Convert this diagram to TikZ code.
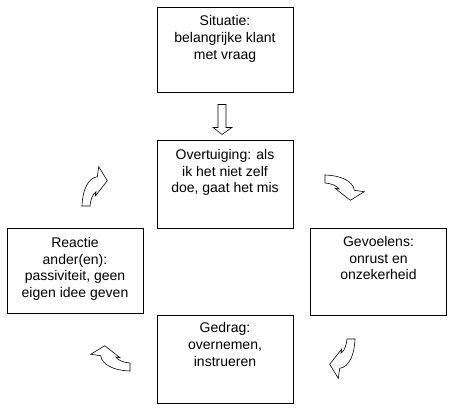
\documentclass[tikz,border=0pt]{standalone}
\usepackage{fontspec}
\setmainfont{Liberation Sans}
\usetikzlibrary{positioning,calc}

\tikzset{
  box/.style={draw, line width=0.9pt, minimum width=136pt, inner sep=0pt},
  txt/.style={align=center, inner sep=0pt, font=\fontsize{14}{16.7}\selectfont},
  arrowline/.style={draw, fill=white, line width=0.6pt, line join=miter},
  curvarrow/.pic={
    \path[arrowline, x=1pt, y=1pt] (0,0) .. controls (0.5,16) and (6,28) .. (15.3,29.3)
      -- (16.7,39.3) -- (25.3,25.3) -- (13.3,10) -- (14,14.3)
      .. controls (10.5,12) and (8.5,6) .. (8,0) -- cycle;
  }
}

\begin{document}
\begin{tikzpicture}[x=1pt, y=-1pt]

\useasboundingbox (0,0) rectangle (450,412);

% Boxes of the cycle
\node[box, minimum height=85pt] (sit) at (225,49.5) {};
\node[box, minimum height=88pt] (ovt) at (225,184) {};
\node[box, minimum height=87pt] (gev) at (378.5,271.5) {};
\node[box, minimum height=88pt] (ged) at (225,359) {};
\node[box, minimum height=85pt] (rea) at (75,270.5) {};

% Texts at the top of each box
\node[txt, below=9pt of sit.north] (sittxt) {Situatie:\\belangrijke klant\\met vraag};
\node[txt, below=9.5pt of ovt.north] (ovttxt) {Overtuiging: als\\ik het niet zelf\\doe, gaat het mis};
\node[txt, below=8.5pt of gev.north] (gevtxt) {Gevoelens:\\onrust en\\onzekerheid};
\node[txt, below=8pt of ged.north] (gedtxt) {Gedrag:\\overnemen,\\instrueren};
\node[txt, below=9.5pt of rea.north] (reatxt) {Reactie\\ander(en):\\passiviteit, geen\\eigen idee geven};

% Straight block arrow
\coordinate (dtop) at ($(sit.south)+(-3,12)$);
\draw[arrowline] (dtop) ++(-4,0) -- ++(8,0) -- ++(0,23) -- ++(6,0)
  -- ++(-10,7) -- ++(-9,-7) -- ++(5,0) -- cycle;

% Curved arrows round the cycle
\pic[rotate=-90] at (325,175) {curvarrow};
\pic[rotate=180] at (355,339) {curvarrow};
\pic[rotate=90] at (130,371) {curvarrow};
\pic at (82,206) {curvarrow};

\end{tikzpicture}
\end{document}
